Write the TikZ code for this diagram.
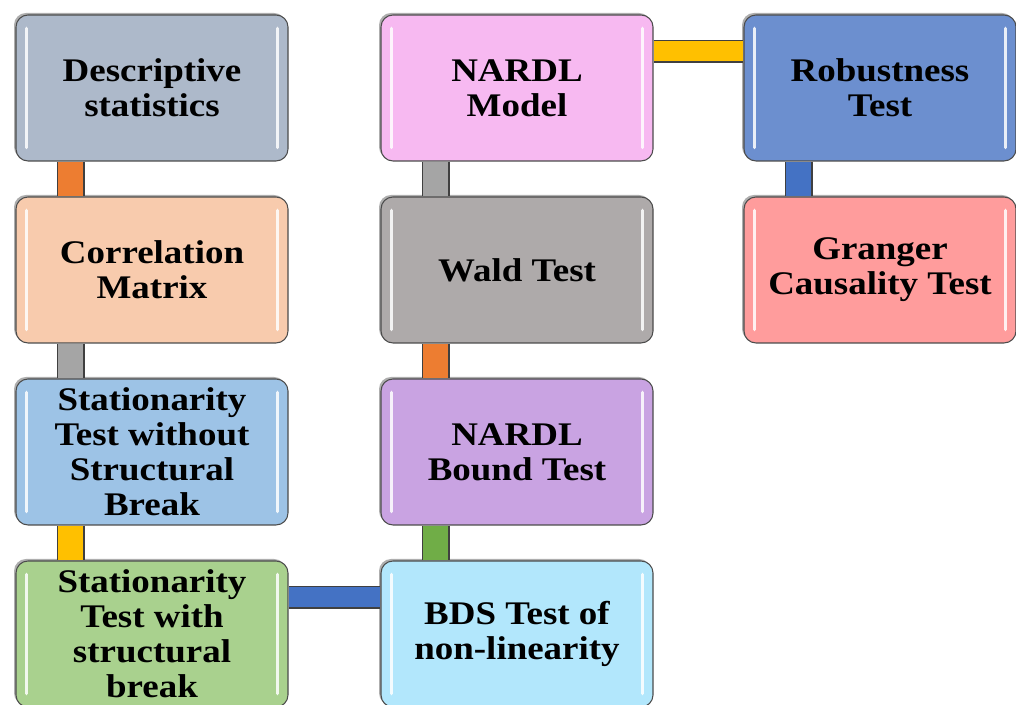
\documentclass[tikz,border=0pt]{standalone}
\usepackage{fontspec}
\setmainfont{Liberation Serif}[FakeStretch=1.12]
\usepackage{tikz}
\usetikzlibrary{shadows}
\usepackage{xcolor}
\definecolor{descgray}{HTML}{ADB9CA}
\definecolor{corrpeach}{HTML}{F8CBAD}
\definecolor{statblue}{HTML}{9DC3E6}
\definecolor{statgreen}{HTML}{A9D18E}
\definecolor{nardlpink}{HTML}{F7B9F1}
\definecolor{waldgray}{HTML}{AEAAAA}
\definecolor{boundlilac}{HTML}{C9A3E2}
\definecolor{bdscyan}{HTML}{B2E7FC}
\definecolor{robustblue}{HTML}{6C8FCF}
\definecolor{grangerred}{HTML}{FF9C9C}
\definecolor{linkorange}{HTML}{ED7D31}
\definecolor{linkgray}{HTML}{A5A5A5}
\definecolor{linkgold}{HTML}{FFC000}
\definecolor{linkblue}{HTML}{4472C4}
\definecolor{linkgreen}{HTML}{70AD47}

\begin{document}
\begin{tikzpicture}[
    x=0.75pt, y=0.75pt,
    stage/.style={rectangle, rounded corners=9pt, draw=black!70, line width=0.8pt,
        fill=#1, minimum width=204pt, minimum height=109.5pt, inner sep=1pt,
        align=center, font=\fontsize{24.75}{26.25}\selectfont\bfseries,
        drop shadow={shadow xshift=-1.5pt, shadow yshift=1.5pt, fill=black!45, opacity=0.7},
        path picture={
            \draw[white, line width=2.4pt, line cap=round, opacity=0.85]
                ([xshift=8pt,yshift=-10pt]path picture bounding box.north west) --
                ([xshift=8pt,yshift=10pt]path picture bounding box.south west)
                ([xshift=-8pt,yshift=-10pt]path picture bounding box.north east) --
                ([xshift=-8pt,yshift=10pt]path picture bounding box.south east);
        }},
    vlink/.style={draw=black!75, line width=1pt, double=#1, double distance=19pt},
    hlink/.style={draw=black!75, line width=1pt, double=#1, double distance=15pt}
]
    \useasboundingbox (0,0) rectangle (1016,705);

    % first column
    \node[stage=descgray] (ds) at (152,617) {Descriptive\\statistics};
    \node[stage=corrpeach] (cm) at (152,435) {Correlation\\Matrix};
    \node[stage=statblue] (sa) at (152,253) {Stationarity\\Test without\\Structural\\Break};
    \node[stage=statgreen] (sb) at (152,71) {Stationarity\\Test with\\structural\\break};

    % second column
    \node[stage=nardlpink] (nm) at (517,617) {NARDL\\Model};
    \node[stage=waldgray] (wt) at (517,435) {Wald Test};
    \node[stage=boundlilac] (bt) at (517,253) {NARDL\\Bound Test};
    \node[stage=bdscyan] (bds) at (517,71) {BDS Test of\\non-linearity};

    % third column
    \node[stage=robustblue] (rt) at (880,617) {Robustness\\Test};
    \node[stage=grangerred] (gc) at (880,435) {Granger\\Causality Test};

    % links
    \draw[vlink=linkorange] ([xshift=-61pt]ds.south) -- ([xshift=-61pt]cm.north);
    \draw[vlink=linkgray] ([xshift=-61pt]cm.south) -- ([xshift=-61pt]sa.north);
    \draw[vlink=linkgold] ([xshift=-61pt]sa.south) -- ([xshift=-61pt]sb.north);
    \draw[hlink=linkblue] ([yshift=27.5pt]sb.east) -- ([yshift=27.5pt]bds.west);
    \draw[vlink=linkgreen] ([xshift=-61pt]bt.south) -- ([xshift=-61pt]bds.north);
    \draw[vlink=linkorange] ([xshift=-61pt]wt.south) -- ([xshift=-61pt]bt.north);
    \draw[vlink=linkgray] ([xshift=-61pt]nm.south) -- ([xshift=-61pt]wt.north);
    \draw[hlink=linkgold] ([yshift=27.5pt]nm.east) -- ([yshift=27.5pt]rt.west);
    \draw[vlink=linkblue] ([xshift=-61pt]rt.south) -- ([xshift=-61pt]gc.north);
\end{tikzpicture}
\end{document}
